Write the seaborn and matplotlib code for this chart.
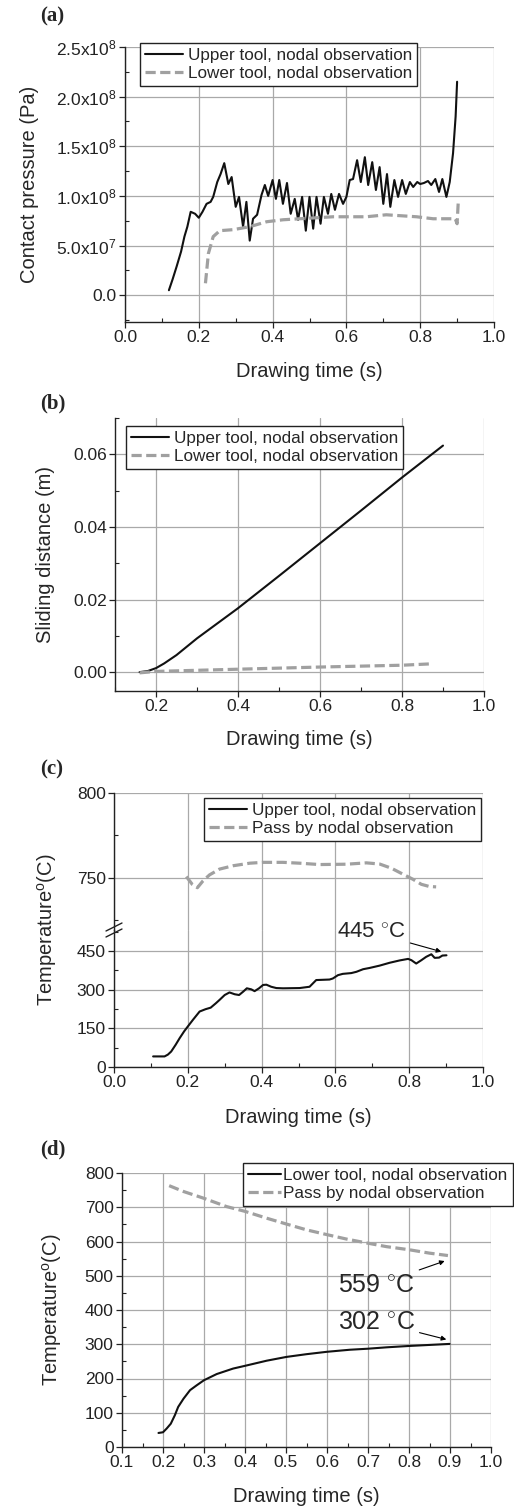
import numpy as np
import pandas as pd
import matplotlib
matplotlib.use("Agg")
import matplotlib.pyplot as plt
import seaborn as sns
from matplotlib.ticker import MultipleLocator, FixedLocator, FixedFormatter

# ---------------- data ----------------
# (a) contact pressure (x1e8 Pa)
a_up_t = [0.119, 0.129, 0.140, 0.152, 0.161, 0.169, 0.178, 0.190, 0.200, 0.210, 0.221, 0.232, 0.239,
          0.250, 0.259, 0.269, 0.280, 0.289, 0.300, 0.309, 0.320, 0.329, 0.338, 0.347, 0.358, 0.370,
          0.379, 0.388, 0.400, 0.409, 0.418, 0.428, 0.439, 0.449, 0.460, 0.469, 0.480, 0.490, 0.500,
          0.510, 0.519, 0.530, 0.539, 0.550, 0.559, 0.569, 0.580, 0.591, 0.600, 0.609, 0.618, 0.629,
          0.639, 0.650, 0.659, 0.670, 0.680, 0.690, 0.700, 0.710, 0.719, 0.730, 0.740, 0.751, 0.761,
          0.772, 0.781, 0.792, 0.800, 0.810, 0.821, 0.830, 0.841, 0.851, 0.860, 0.871, 0.880, 0.889,
          0.896, 0.900]
a_up_p = [0.05, 0.16, 0.29, 0.44, 0.59, 0.69, 0.84, 0.82, 0.78, 0.84, 0.92, 0.94, 0.99,
          1.14, 1.22, 1.33, 1.12, 1.19, 0.89, 0.99, 0.69, 0.94, 0.55, 0.77, 0.81, 1.01,
          1.11, 1.00, 1.16, 0.97, 1.16, 0.92, 1.13, 0.82, 0.97, 0.76, 0.99, 0.65, 0.99,
          0.67, 0.99, 0.72, 0.99, 0.82, 1.02, 0.86, 1.02, 0.92, 0.99, 1.16, 1.17, 1.36,
          1.14, 1.39, 1.11, 1.34, 1.06, 1.29, 0.92, 1.22, 0.89, 1.16, 0.99, 1.16, 1.02,
          1.14, 1.09, 1.14, 1.12, 1.13, 1.15, 1.11, 1.17, 1.04, 1.17, 0.99, 1.14, 1.43,
          1.80, 2.15]
a_lo_t = [0.218, 0.226, 0.239, 0.257, 0.293, 0.338, 0.384, 0.429, 0.474, 0.564, 0.654, 0.708,
          0.790, 0.835, 0.895, 0.900, 0.903]
a_lo_p = [0.12, 0.42, 0.59, 0.65, 0.66, 0.69, 0.74, 0.76, 0.77, 0.79, 0.79, 0.81,
          0.79, 0.77, 0.77, 0.72, 0.93]

# (b) sliding distance (m)
b_up_t = [0.16, 0.18, 0.20, 0.22, 0.25, 0.30, 0.40, 0.50, 0.60, 0.70, 0.80, 0.90]
b_up_d = [0.0, 0.0003, 0.0011, 0.0024, 0.0047, 0.0093, 0.0176, 0.0265, 0.0355, 0.0445, 0.0536, 0.0624]
b_lo_t = [0.16, 0.20, 0.40, 0.60, 0.80, 0.875]
b_lo_d = [-0.0002, 0.0002, 0.0008, 0.0014, 0.0019, 0.0023]

# (c) temperature, upper tool and pass-by node
c_up_t = [0.106, 0.137, 0.146, 0.155, 0.167, 0.178, 0.190, 0.200, 0.214, 0.232, 0.248, 0.262,
          0.276, 0.286, 0.300, 0.313, 0.327, 0.339, 0.350, 0.360, 0.372, 0.381, 0.393, 0.404,
          0.413, 0.426, 0.440, 0.458, 0.503, 0.530, 0.548, 0.566, 0.584, 0.593, 0.607, 0.620,
          0.643, 0.657, 0.675, 0.693, 0.720, 0.747, 0.774, 0.797, 0.806, 0.819, 0.833, 0.846,
          0.860, 0.869, 0.881, 0.890, 0.901]
c_up_T = [41, 41, 48, 60, 86, 112, 138, 157, 183, 215, 224, 230,
          247, 260, 279, 289, 282, 279, 292, 305, 301, 294, 305, 318,
          319, 311, 306, 305, 306, 311, 337, 338, 339, 343, 356, 361,
          364, 369, 379, 384, 393, 404, 413, 419, 414, 401, 414, 427,
          437, 423, 424, 432, 433]
c_pass_t = [0.196, 0.212, 0.226, 0.241, 0.259, 0.286, 0.323, 0.368, 0.404, 0.458, 0.503, 0.557,
            0.630, 0.684, 0.720, 0.752, 0.783, 0.810, 0.833, 0.855, 0.873]
c_pass_T = [750.6, 746.0, 744.0, 748.0, 751.6, 755.0, 757.0, 758.5, 759.0, 759.0, 758.5, 757.7,
            757.9, 758.7, 758.0, 755.5, 752.0, 749.0, 746.0, 744.7, 744.5]

# (d) temperature, lower tool and pass-by node
d_lo_t = [0.189, 0.200, 0.209, 0.219, 0.229, 0.237, 0.250, 0.266, 0.282, 0.300, 0.331, 0.371,
          0.400, 0.453, 0.501, 0.550, 0.600, 0.656, 0.700, 0.745, 0.800, 0.850, 0.899]
d_lo_T = [41, 43, 54, 68, 93, 117, 141, 166, 180, 195, 213, 229,
          237, 252, 263, 271, 278, 284, 287, 291, 295, 298, 301]
d_pass_t = [0.215, 0.250, 0.300, 0.355, 0.400, 0.453, 0.501, 0.550, 0.600, 0.648, 0.700, 0.745,
            0.800, 0.850, 0.895]
d_pass_T = [763, 746, 726, 702, 688, 668, 651, 634, 620, 607, 595, 585, 576, 566, 559]

a_ytick_vals = [0.0, 0.5, 1.0, 1.5, 2.0, 2.5]
a_ytick_labels = ["0.0", "5.0x10$^{7}$", "1.0x10$^{8}$", "1.5x10$^{8}$", "2.0x10$^{8}$", "2.5x10$^{8}$"]

# ---------------- style ----------------
sns.set_style("ticks")
plt.rcParams["font.family"] = ["Liberation Sans", "DejaVu Sans"]
plt.rcParams["mathtext.fontset"] = "custom"
plt.rcParams["mathtext.rm"] = "Liberation Sans"
plt.rcParams["mathtext.it"] = "Liberation Sans:italic"
plt.rcParams["mathtext.bf"] = "Liberation Sans:bold"
plt.rcParams["axes.linewidth"] = 1.0
plt.rcParams["axes.edgecolor"] = "#222222"

TICK_FS = 12.5
LAB_FS = 14.5
LEG_FS = 12.3
BLACK = "#111111"
GRAY = "#a0a0a0"
GRID = "#a9a9a9"
DASH = (0, (3.2, 1.4))

fig = plt.figure(figsize=(5.14, 15.07), dpi=100)
W, H = 514.0, 1507.0


def rect(l, r, t, b):
    return [l / W, 1 - b / H, (r - l) / W, (b - t) / H]


def style_ax(ax, left=True, bottom=True):
    sns.despine(ax=ax, top=True, right=True, left=not left, bottom=not bottom)
    ax.tick_params(which="major", direction="out", length=4, width=0.9, labelsize=TICK_FS,
                   pad=2, colors="#222222")
    ax.tick_params(which="minor", direction="in", length=3, width=0.8, colors="#222222")
    ax.grid(True, which="major", color=GRID, lw=0.9)
    ax.set_axisbelow(True)


def legend(ax, handles, labels, x, y, handlelength=2.2, handletextpad=0.3):
    leg = ax.legend(handles, labels, loc="upper left", bbox_to_anchor=(x, y), borderaxespad=0,
                    fontsize=LEG_FS, frameon=True, fancybox=False, edgecolor="#222222",
                    framealpha=1, handlelength=handlelength, handletextpad=handletextpad,
                    labelspacing=0.15, borderpad=0.3)
    leg.get_frame().set_linewidth(1.0)
    return leg


def panel_label(txt, x, y):
    fig.text(x / W, 1 - y / H, txt, fontsize=15, fontweight="bold",
             family=["Liberation Serif", "DejaVu Serif"], ha="left", va="center")


ARROW = dict(arrowstyle="-|>", color="black", lw=0.8, mutation_scale=7, shrinkA=1, shrinkB=0)

# ---------------- (a) ----------------
ax = fig.add_axes(rect(125, 494, 47, 322))
sns.lineplot(x=a_up_t, y=a_up_p, ax=ax, color=BLACK, lw=1.5, sort=False, estimator=None,
             label="Upper tool, nodal observation")
sns.lineplot(x=a_lo_t, y=a_lo_p, ax=ax, color=GRAY, lw=2.3, linestyle=DASH, sort=False,
             estimator=None, label="Lower tool, nodal observation")
ax.set_xlim(0.0, 1.0)
ax.set_ylim(-0.27, 2.5)
ax.xaxis.set_major_locator(MultipleLocator(0.2))
ax.xaxis.set_minor_locator(MultipleLocator(0.1))
ax.yaxis.set_major_locator(FixedLocator(a_ytick_vals))
ax.yaxis.set_major_formatter(FixedFormatter(a_ytick_labels))
ax.yaxis.set_minor_locator(MultipleLocator(0.25))
ax.xaxis.set_major_formatter(matplotlib.ticker.FormatStrFormatter("%.1f"))
style_ax(ax)
ax.set_xlabel("Drawing time (s)", fontsize=LAB_FS, labelpad=12)
ax.set_ylabel("Contact pressure (Pa)", fontsize=LAB_FS, labelpad=12)
h, l = ax.get_legend_handles_labels()
legend(ax, h, l, (140 - 125) / 369, (322 - 43) / 275)
panel_label("(a)", 40, 16)

# ---------------- (b) ----------------
ax = fig.add_axes(rect(115, 484, 418, 691))
sns.lineplot(x=b_up_t, y=b_up_d, ax=ax, color=BLACK, lw=1.5, sort=False, estimator=None,
             label="Upper tool, nodal observation")
sns.lineplot(x=b_lo_t, y=b_lo_d, ax=ax, color=GRAY, lw=2.3, linestyle=DASH, sort=False,
             estimator=None, label="Lower tool, nodal observation")
ax.set_xlim(0.1, 1.0)
ax.set_ylim(-0.0052, 0.07)
ax.xaxis.set_major_locator(FixedLocator([0.2, 0.4, 0.6, 0.8, 1.0]))
ax.xaxis.set_minor_locator(MultipleLocator(0.1))
ax.yaxis.set_major_locator(FixedLocator([0.0, 0.02, 0.04, 0.06]))
ax.yaxis.set_minor_locator(MultipleLocator(0.01))
ax.xaxis.set_major_formatter(matplotlib.ticker.FormatStrFormatter("%.1f"))
ax.yaxis.set_major_formatter(matplotlib.ticker.FormatStrFormatter("%.2f"))
style_ax(ax)
ax.set_xlabel("Drawing time (s)", fontsize=LAB_FS, labelpad=11)
ax.set_ylabel("Sliding distance (m)", fontsize=LAB_FS, labelpad=13)
h, l = ax.get_legend_handles_labels()
legend(ax, h, l, (126 - 115) / 369, (691 - 426) / 273)
panel_label("(b)", 40, 403)

# ---------------- (c) broken axis ----------------
axu = fig.add_axes(rect(114, 483, 793, 930))
axl = fig.add_axes(rect(114, 483, 930, 1067))
sns.lineplot(x=c_up_t, y=c_up_T, ax=axl, color=BLACK, lw=1.5, sort=False, estimator=None,
             label="Upper tool, nodal observation")
sns.lineplot(x=c_pass_t, y=c_pass_T, ax=axu, color=GRAY, lw=2.3, linestyle=DASH, sort=False,
             estimator=None, label="Pass by nodal observation")
for a in (axu, axl):
    a.set_xlim(0.0, 1.0)
    a.xaxis.set_major_locator(MultipleLocator(0.2))
    a.xaxis.set_minor_locator(MultipleLocator(0.1))
    a.xaxis.set_major_formatter(matplotlib.ticker.FormatStrFormatter("%.1f"))
    a.patch.set_alpha(0)
axu.set_ylim(719, 800)
axl.set_ylim(0, 531)
axu.yaxis.set_major_locator(FixedLocator([750, 800]))
axu.yaxis.set_minor_locator(FixedLocator([725, 775]))
axl.yaxis.set_major_locator(FixedLocator([0, 150, 300, 450]))
axl.yaxis.set_minor_locator(FixedLocator([75, 225, 375, 525]))
style_ax(axu, bottom=False)
style_ax(axl)
axu.tick_params(axis="x", which="both", bottom=False, labelbottom=False)
axl.set_xlabel("Drawing time (s)", fontsize=LAB_FS, labelpad=13)
axl.set_ylabel("Temperature$^{\\mathrm{o}}$(C)", fontsize=LAB_FS)
axl.yaxis.set_label_coords(-0.15, 1.0)
axu.set_ylabel("")
hu, lu = axu.get_legend_handles_labels()
hl, ll = axl.get_legend_handles_labels()
if axl.get_legend():
    axl.get_legend().remove()
legend(axu, hl + hu, ll + lu, (204 - 114) / 369, (930 - 798) / 137)
# break marks on the left spine
for dy in (-3, 3):
    y0 = (dy - 4) / 137.0
    y1 = (dy + 4) / 137.0
    axl.plot([-8 / 369, 8 / 369], [1 + y0, 1 + y1], transform=axl.transAxes, color="#222222",
             lw=1.0, clip_on=False)
axl.annotate("445 $^{\\circ}$C", xy=(0.887, 447), xytext=(0.697, 523), fontsize=16,
             ha="center", va="center", annotation_clip=False, arrowprops=ARROW)
panel_label("(c)", 40, 769)

# ---------------- (d) ----------------
ax = fig.add_axes(rect(122, 491, 1173, 1447))
sns.lineplot(x=d_lo_t, y=d_lo_T, ax=ax, color=BLACK, lw=1.5, sort=False, estimator=None,
             label="Lower tool, nodal observation")
sns.lineplot(x=d_pass_t, y=d_pass_T, ax=ax, color=GRAY, lw=2.3, linestyle=DASH, sort=False,
             estimator=None, label="Pass by nodal observation")
ax.set_xlim(0.1, 1.0)
ax.set_ylim(0, 800)
ax.xaxis.set_major_locator(MultipleLocator(0.1))
ax.xaxis.set_minor_locator(MultipleLocator(0.05))
ax.yaxis.set_major_locator(MultipleLocator(100))
ax.yaxis.set_minor_locator(MultipleLocator(50))
ax.xaxis.set_major_formatter(matplotlib.ticker.FormatStrFormatter("%.1f"))
style_ax(ax)
ax.set_xlabel("Drawing time (s)", fontsize=LAB_FS, labelpad=12)
ax.set_ylabel("Temperature$^{\\mathrm{o}}$(C)", fontsize=LAB_FS, labelpad=15)
h, l = ax.get_legend_handles_labels()
legend(ax, h, l, (243 - 122) / 369, (1447 - 1163) / 274, handlelength=1.9, handletextpad=0.15)
ax.annotate("559 $^{\\circ}$C", xy=(0.887, 543), xytext=(0.72, 473), fontsize=18,
            ha="center", va="center", arrowprops=ARROW)
ax.annotate("302 $^{\\circ}$C", xy=(0.891, 314), xytext=(0.72, 366), fontsize=18,
            ha="center", va="center", arrowprops=ARROW)
panel_label("(d)", 40, 1149)

fig.savefig("out.png", dpi=100)
